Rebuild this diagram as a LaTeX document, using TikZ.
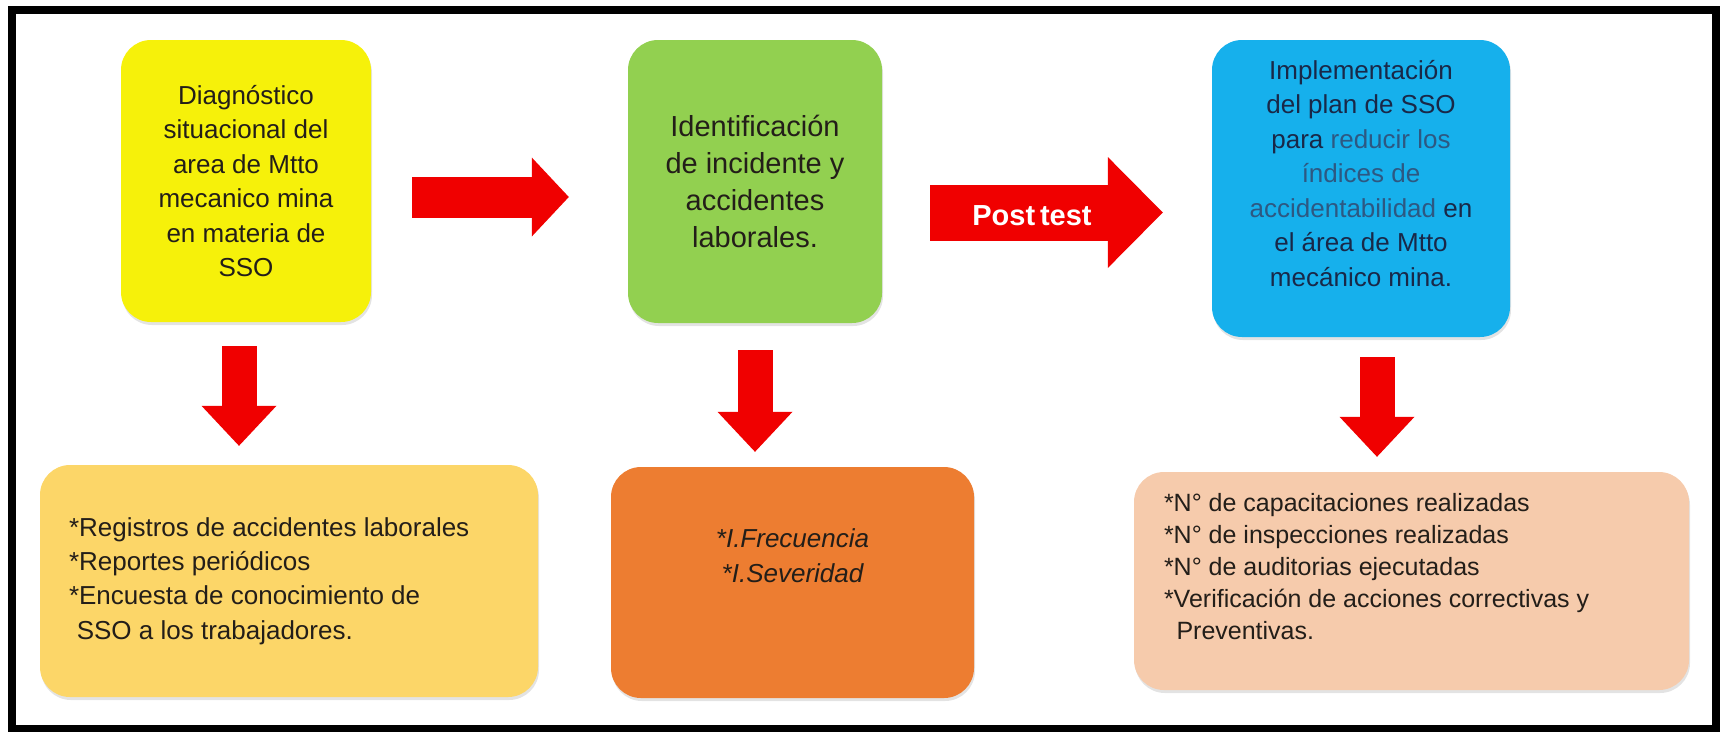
\documentclass[tikz,border=0pt]{standalone}
\usepackage{fontspec}
\setmainfont{Liberation Sans}
\usetikzlibrary{arrows.meta,calc,shadows}

\definecolor{boxyellow}{RGB}{246,241,10}
\definecolor{boxgreen}{RGB}{146,208,80}
\definecolor{boxblue}{RGB}{22,176,236}
\definecolor{boxgold}{RGB}{252,214,104}
\definecolor{boxorange}{RGB}{237,125,49}
\definecolor{boxpeach}{RGB}{246,203,172}
\definecolor{arrowred}{RGB}{240,0,0}
\definecolor{navytext}{RGB}{25,40,72}
\definecolor{steeltext}{RGB}{45,88,130}
\definecolor{darktext}{RGB}{35,30,25}

\tikzset{
  box/.style={rounded corners=30pt, draw=none, inner sep=0pt,
    drop shadow={opacity=0.22, shadow xshift=1pt, shadow yshift=-3pt}},
  boxtext/.style={inner sep=0pt, text=darktext},
  rarrow/.style={draw=arrowred, line width=41pt,
    -{Triangle[length=37pt, width=79pt, line width=0pt]}},
  parrow/.style={draw=arrowred, line width=56pt,
    -{Triangle[length=55pt, width=111pt, line width=0pt]}},
  darrow/.style={draw=arrowred, line width=35pt,
    -{Triangle[length=40pt, width=75pt, line width=0pt]}},
}

\begin{document}
\begin{tikzpicture}[x=1pt, y=-1pt]
  \useasboundingbox (0,0) rectangle (1724,732);
  \draw[line width=7.5pt] (12,10) rectangle (1716,728.5);

  \node[box, fill=boxyellow, minimum width=250pt, minimum height=282pt] (diag) at (246,181) {};
  \node[box, fill=boxgreen, minimum width=254pt, minimum height=283pt] (ident) at (755,181.5) {};
  \node[box, fill=boxblue, minimum width=298pt, minimum height=297pt] (impl) at (1361,188.5) {};
  \node[box, fill=boxgold, minimum width=498pt, minimum height=232pt] (reg) at (289,581) {};
  \node[box, fill=boxorange, minimum width=363pt, minimum height=231pt] (ind) at (792.5,582.5) {};
  \node[box, fill=boxpeach, minimum width=555pt, minimum height=218pt] (ver) at (1411.5,581) {};

  \node[boxtext, align=center, font=\fontsize{26}{34.5}\selectfont] (diagtxt) at (diag)
    {Diagnóstico\\situacional del\\area de Mtto\\mecanico mina\\en materia de\\SSO};
  \node[boxtext, align=center, font=\fontsize{29}{37}\selectfont] (identtxt) at (ident)
    {Identificación\\de incidente y\\accidentes\\laborales.};
  \node[boxtext, text=navytext, align=center, font=\fontsize{26}{34.5}\selectfont] (impltxt) at ([yshift=15pt]impl.center)
    {Implementación\\del plan de SSO\\para \textcolor{steeltext}{reducir los}\\\textcolor{steeltext}{índices de}\\\textcolor{steeltext}{accidentabilidad} en\\el área de Mtto\\mecánico mina.};
  \node[boxtext, anchor=west, align=left, font=\fontsize{26}{34.3}\selectfont] (regtxt) at ([xshift=29pt]reg.west)
    {*Registros de accidentes laborales\\*Reportes periódicos\\*Encuesta de conocimiento de\\\hspace*{0.3em}SSO a los trabajadores.};
  \node[boxtext, align=center, font=\itshape\fontsize{26}{35}\selectfont] (indtxt) at ([yshift=27pt]ind.center)
    {*I.Frecuencia\\*I.Severidad};
  \node[boxtext, anchor=west, align=left, font=\fontsize{25}{31.8}\selectfont] (vertxt) at ([xshift=30pt,yshift=14.5pt]ver.west)
    {*N° de capacitaciones realizadas\\*N° de inspecciones realizadas\\*N° de auditorias ejecutadas\\*Verificación de acciones correctivas y\\\hspace*{0.5em}Preventivas.};

  \draw[rarrow, shorten <=41pt, shorten >=59pt] ([yshift=-16pt]diag.east) -- ([yshift=-16pt]diag.east -| ident.west);
  \draw[parrow, shorten <=48pt, shorten >=49pt] ([yshift=-31pt]ident.east) -- ([yshift=-31pt]ident.east -| impl.west);
  \node[text=white, inner sep=0pt, font=\bfseries\fontsize{29}{31}\selectfont] (post)
    at ([xshift=-15pt,yshift=-31pt]$(ident.east)!0.5!(impl.west)$) {Post\,test};

  \draw[darrow, shorten <=24pt, shorten >=19pt] ([xshift=-7pt]diag.south) -- ([xshift=-7pt]diag.south |- reg.north);
  \draw[darrow, shorten <=27pt, shorten >=15pt] (ident.south) -- (ident.south |- ind.north);
  \draw[darrow, shorten <=20pt, shorten >=15pt] ([xshift=16pt]impl.south) -- ([xshift=16pt]impl.south |- ver.north);
\end{tikzpicture}
\end{document}
